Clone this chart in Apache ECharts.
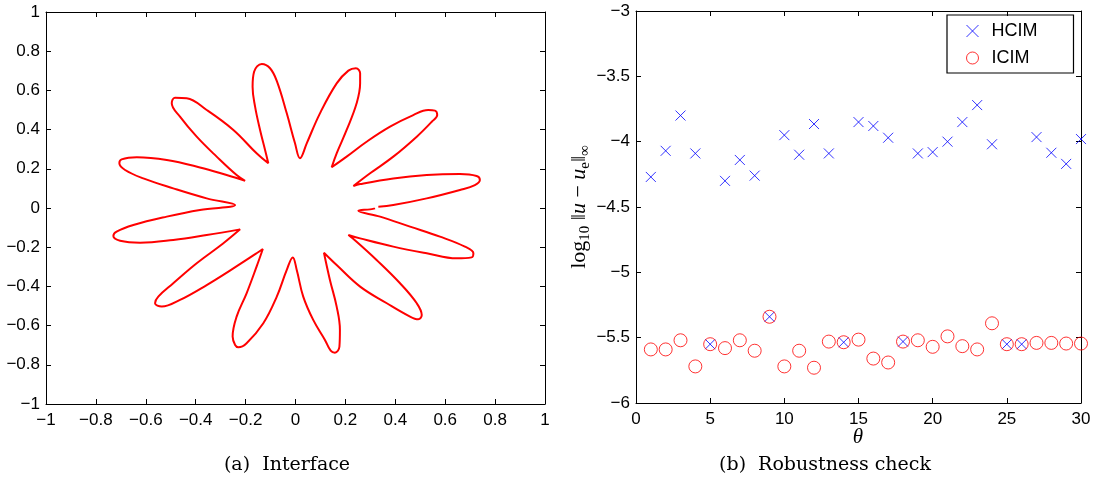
<!DOCTYPE html>
<html>
<head>
<meta charset="utf-8">
<script src="https://cdn.jsdelivr.net/npm/echarts@6/dist/echarts.min.js"></script>
<style>
  html, body { margin: 0; padding: 0; background: #fff; }
  #main { width: 1095px; height: 480px; }
</style>
</head>
<body>
<div id="main"></div>
<script>
// (a) interface curve, traced point by point, petal by petal (x, y)
var curveX = [
  0.332, 0.392, 0.526, 0.659, 0.719, 0.739, 0.726, 0.659, 0.526, 0.392, 0.259, 0.232,
  0.299, 0.392, 0.486, 0.546, 0.568, 0.559, 0.532, 0.472, 0.379, 0.285, 0.205, 0.145,
  0.165, 0.205, 0.245, 0.259, 0.259, 0.242, 0.212, 0.165, 0.098, 0.045, 0.018,
  -0.002, -0.035, -0.074, -0.102, -0.135, -0.166, -0.172, -0.162, -0.142, -0.122, -0.109,
  -0.156, -0.249, -0.356, -0.436, -0.483, -0.496, -0.463, -0.396, -0.316, -0.236, -0.202,
  -0.276, -0.383, -0.516, -0.636, -0.697, -0.706, -0.683, -0.610, -0.490, -0.356, -0.242,
  -0.383, -0.516, -0.650, -0.717, -0.730, -0.703, -0.623, -0.490, -0.356, -0.222,
  -0.289, -0.396, -0.490, -0.550, -0.563, -0.536, -0.463, -0.356, -0.249, -0.156, -0.131,
  -0.156, -0.196, -0.236, -0.252, -0.242, -0.229, -0.196, -0.129, -0.075, -0.035, -0.011,
  0.005, 0.031, 0.071, 0.118, 0.141, 0.158, 0.176, 0.178, 0.165, 0.138, 0.114,
  0.165, 0.259, 0.366, 0.459, 0.492, 0.506, 0.486, 0.419, 0.325, 0.245, 0.212,
  0.259, 0.392, 0.526, 0.646, 0.706, 0.713, 0.679, 0.579, 0.459, 0.339, 0.252, 0.299, 0.319
];
var curveY = [
  0.007, 0.015, 0.049, 0.092, 0.117, 0.143, 0.163, 0.173, 0.168, 0.151, 0.122, 0.112,
  0.177, 0.262, 0.364, 0.440, 0.474, 0.497, 0.500, 0.474, 0.415, 0.338, 0.262, 0.208,
  0.279, 0.398, 0.534, 0.636, 0.687, 0.713, 0.701, 0.636, 0.483, 0.330, 0.254,
  0.330, 0.483, 0.645, 0.713, 0.735, 0.695, 0.619, 0.517, 0.398, 0.296, 0.228,
  0.279, 0.398, 0.500, 0.560, 0.563, 0.534, 0.466, 0.364, 0.262, 0.168, 0.139,
  0.168, 0.207, 0.245, 0.259, 0.248, 0.228, 0.194, 0.151, 0.100, 0.049, 0.015,
  -0.010, -0.044, -0.087, -0.121, -0.143, -0.167, -0.177, -0.163, -0.138, -0.109,
  -0.180, -0.282, -0.384, -0.452, -0.486, -0.503, -0.469, -0.393, -0.308, -0.231, -0.209,
  -0.299, -0.435, -0.554, -0.656, -0.699, -0.711, -0.690, -0.588, -0.452, -0.316, -0.252,
  -0.316, -0.452, -0.571, -0.673, -0.728, -0.738, -0.708, -0.622, -0.503, -0.367, -0.228,
  -0.291, -0.401, -0.486, -0.554, -0.568, -0.546, -0.486, -0.384, -0.265, -0.172, -0.138,
  -0.155, -0.197, -0.231, -0.257, -0.252, -0.231, -0.197, -0.146, -0.095, -0.044, -0.014, -0.007, -0.002
];

// (b) robustness check
var theta = [];
for (var t = 1; t <= 30; t++) theta.push(t);
var hcim = [
  -4.27, -4.07, -3.80, -4.09, -5.55, -4.30, -4.14, -4.26, -5.34, -3.95,
  -4.10, -3.865, -4.09, -5.535, -3.85, -3.88, -3.97, -5.53, -4.09, -4.08,
  -4.00, -3.85, -3.72, -4.02, -5.55, -5.55, -3.965, -4.085, -4.17, -3.98
];
var icim = [
  -5.59, -5.59, -5.52, -5.72, -5.55, -5.58, -5.52, -5.60, -5.34, -5.72,
  -5.60, -5.73, -5.53, -5.535, -5.515, -5.66, -5.69, -5.53, -5.52, -5.57,
  -5.49, -5.565, -5.59, -5.39, -5.55, -5.55, -5.54, -5.54, -5.545, -5.545
];

var FONT = 'Liberation Sans';
var SERIF = 'DejaVu Serif';
var crossPath = 'path://M0,0L10,10M10,0L0,10';

function fmt(v) {
  var r = parseFloat(v.toFixed(1));
  if (r === 0) return '0';
  return (r < 0 ? '\u2212' : '') + Math.abs(r);
}

function boxAxes(gridIndex, min, max, interval, isX) {
  var common = {
    type: 'value', gridIndex: gridIndex, min: min, max: max, interval: interval,
    splitLine: { show: false },
    axisLine: { show: true, onZero: false, lineStyle: { color: '#000', width: 1 } },
    axisTick: { show: true, inside: true, length: 5, lineStyle: { color: '#000' } }
  };
  var main = Object.assign({}, common, {
    position: isX ? 'bottom' : 'left',
    axisLabel: { color: '#000', fontSize: 17, fontFamily: FONT, margin: isX ? 8 : 6, formatter: fmt }
  });
  var other = Object.assign({}, common, {
    position: isX ? 'top' : 'right',
    axisLabel: { show: false }
  });
  return [main, other];
}

var chart = echarts.init(document.getElementById('main'), null, { renderer: 'canvas' });

var xa = boxAxes(0, -1, 1, 0.2, true).concat(boxAxes(1, 0, 30, 5, true));
var ya = boxAxes(0, -1, 1, 0.2, false).concat(boxAxes(1, -6, -3, 0.5, false));

var option = {
  backgroundColor: '#fff',
  animation: false,
  grid: [
    { left: 46, top: 12, width: 499, height: 392 },
    { left: 636, top: 11, width: 445, height: 392 }
  ],
  xAxis: xa,
  yAxis: ya,
  legend: {
    left: 947, top: 15,
    orient: 'vertical',
    borderColor: '#000', borderWidth: 1.2,
    padding: [7, 36, 6, 17],
    itemWidth: 12, itemHeight: 12, itemGap: 9,
    textStyle: { color: '#000', fontSize: 18, fontFamily: FONT, padding: [0, 0, 0, 8] },
    data: [
      { name: 'HCIM', icon: crossPath, itemStyle: { color: '#0000ff', borderColor: '#0000ff', borderWidth: 1 } },
      { name: 'ICIM', icon: 'circle', itemStyle: { color: 'none', borderColor: '#ff0000', borderWidth: 1 } }
    ]
  },
  graphic: [
    {
      type: 'text', x: 287, y: 465,
      style: { text: '(a)  Interface', font: '19px "' + SERIF + '"', fill: '#000', align: 'center', verticalAlign: 'middle' }
    },
    {
      type: 'text', x: 825, y: 465,
      style: { text: '(b)  Robustness check', font: '19px "' + SERIF + '"', fill: '#000', align: 'center', verticalAlign: 'middle' }
    },
    {
      type: 'text', x: 858, y: 437,
      style: { text: '\u03b8', font: 'italic 21px "Liberation Serif"', fill: '#000', align: 'center', verticalAlign: 'middle' }
    },
    {
      type: 'text', x: 579, y: 207, rotation: Math.PI / 2,
      style: {
        text: '{n|log}{s|10}{n| \u2016}{i|u}{n| \u2212 }{i|u}{s|e}{n|\u2016}{s|\u221e}',
        align: 'center', verticalAlign: 'middle', fill: '#000',
        rich: {
          n: { fontFamily: 'Liberation Serif', fontSize: 22, lineHeight: 28, verticalAlign: 'middle' },
          i: { fontFamily: 'Liberation Serif', fontSize: 22, fontStyle: 'italic', lineHeight: 28, verticalAlign: 'middle' },
          s: { fontFamily: 'Liberation Serif', fontSize: 15, lineHeight: 28, verticalAlign: 'bottom' }
        }
      }
    }
  ],
  series: [
    {
      name: 'interface',
      type: 'line',
      xAxisIndex: 0, yAxisIndex: 0,
      data: curveX.map(function (x, i) { return [x, curveY[i]]; }),
      smooth: 0.4,
      showSymbol: false,
      lineStyle: { color: '#ff0000', width: 2 },
      clip: true
    },
    {
      name: 'HCIM',
      type: 'scatter',
      xAxisIndex: 2, yAxisIndex: 2,
      data: theta.map(function (t, i) { return [t, hcim[i]]; }),
      symbol: crossPath,
      symbolSize: 10,
      itemStyle: { color: '#0000ff', borderColor: '#0000ff', borderWidth: 1 },
      clip: false
    },
    {
      name: 'ICIM',
      type: 'scatter',
      xAxisIndex: 2, yAxisIndex: 2,
      data: theta.map(function (t, i) { return [t, icim[i]]; }),
      symbol: 'circle',
      symbolSize: 13,
      itemStyle: { color: 'none', borderColor: '#ff0000', borderWidth: 1 },
      clip: false
    }
  ]
};

chart.setOption(option);
</script>
</body>
</html>
